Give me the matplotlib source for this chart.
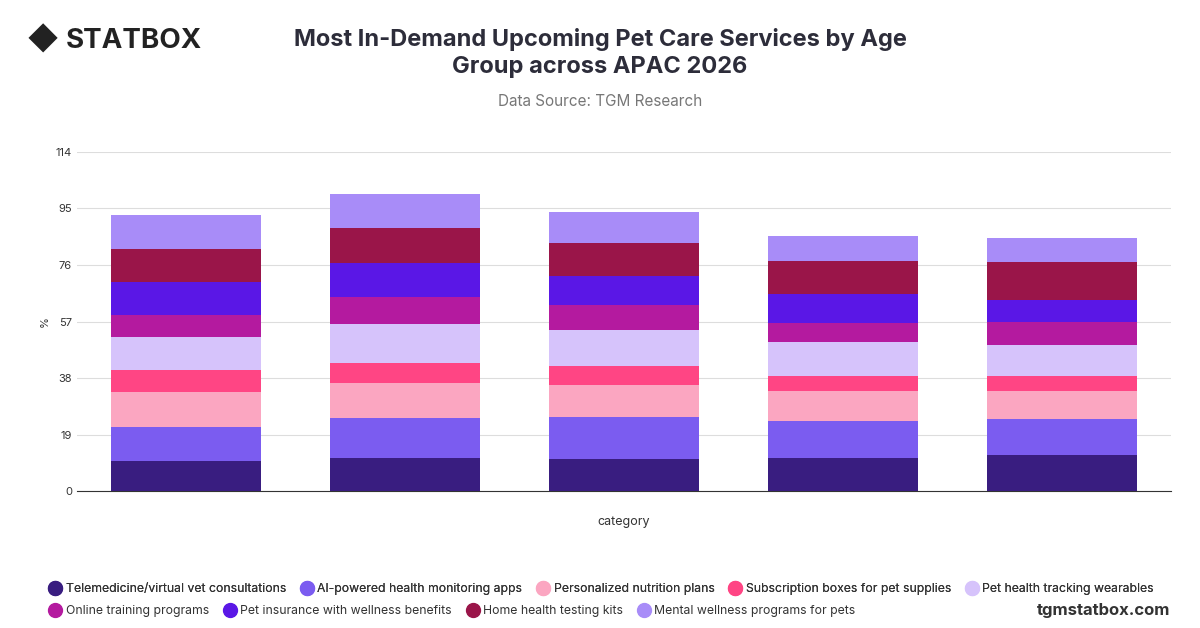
import matplotlib
matplotlib.use("Agg")
import matplotlib.pyplot as plt
import numpy as np
from matplotlib.lines import Line2D

plt.rcParams['font.family'] = ['Inter', 'DejaVu Sans']

groups = ["Gen Z", "Millennials", "Gen X", "Baby Boomers", "Silent"]
series = ["Telemedicine/virtual vet consultations", "AI-powered health monitoring apps",
          "Personalized nutrition plans", "Subscription boxes for pet supplies",
          "Pet health tracking wearables", "Online training programs",
          "Pet insurance with wellness benefits", "Home health testing kits",
          "Mental wellness programs for pets"]
values = [
    [10.1, 11.1, 10.7, 11.1, 12.1],
    [11.4, 13.4, 14.1, 12.4, 12.1],
    [11.7, 11.7, 10.7, 10.1, 9.4],
    [7.4, 7.0, 6.4, 5.0, 5.0],
    [11.1, 13.1, 12.1, 11.4, 10.4],
    [7.4, 9.1, 8.7, 6.4, 7.7],
    [11.1, 11.4, 9.7, 9.7, 7.7],
    [11.1, 11.7, 11.1, 11.1, 12.7],
    [11.4, 11.4, 10.4, 8.7, 8.0],
]
colors = ["#391d80", "#7b5cf0", "#fba6c1", "#ff4584", "#d6c3fb",
          "#b41a9f", "#5a17e6", "#9a1549", "#a88cf8"]
yticks = [0, 19, 38, 57, 76, 95, 114]

fig = plt.figure(figsize=(12, 6.28), dpi=100)
ax = fig.add_axes([0.064, 0.218, 0.912, 0.54])
x = np.arange(len(groups))
bottom = np.zeros(len(groups))
for s, v, c in zip(series, values, colors):
    ax.bar(x, v, 0.685, bottom=bottom, color=c, label=s, zorder=3)
    bottom += np.array(v)
ax.set_xlim(-0.5, len(groups) - 0.5)
ax.set_ylim(0, 114)
ax.set_yticks(yticks)
ax.tick_params(axis='y', length=0, labelsize=8, colors='#333333')
ax.set_xticks([])
ax.grid(axis='y', color='#dddddd', lw=0.8, zorder=0)
for sp in ['top', 'right', 'left']:
    ax.spines[sp].set_visible(False)
ax.spines['bottom'].set_color('#333333')
ax.set_ylabel('%', fontsize=8, color='#333333')
ax.set_xlabel('category', fontsize=9, color='#333333', labelpad=18)

fig.text(0.5, 0.915, "Most In-Demand Upcoming Pet Care Services by Age\nGroup across APAC 2026",
         ha='center', va='center', fontsize=17, fontweight='bold', color='#2d2d3a', linespacing=1.3)
fig.text(0.5, 0.838, "Data Source: TGM Research", ha='center', va='center', fontsize=11, color='#777777')
fig.text(0.055, 0.935, "STATBOX", ha='left', va='center', fontsize=20, fontweight='bold', color='#222222')
fig.text(0.022, 0.935, "◆", ha='left', va='center', fontsize=22, color='#222222')
fig.text(0.975, 0.028, "tgmstatbox.com", ha='right', va='center', fontsize=12, fontweight='bold', color='#333333')

hs = [Line2D([], [], marker='o', ls='', ms=10, color=c) for c in colors]
kw = dict(frameon=False, fontsize=8.8, handletextpad=0.25, columnspacing=1.1,
          labelcolor='#333333', borderpad=0, handlelength=1.2)
leg1 = fig.legend(hs[:5], series[:5], loc='center left', bbox_to_anchor=(0.035, 0.062), ncol=5, **kw)
fig.add_artist(leg1)
fig.legend(hs[5:], series[5:], loc='center left', bbox_to_anchor=(0.035, 0.027), ncol=4, **kw)
fig.savefig("out.png", dpi=100)
